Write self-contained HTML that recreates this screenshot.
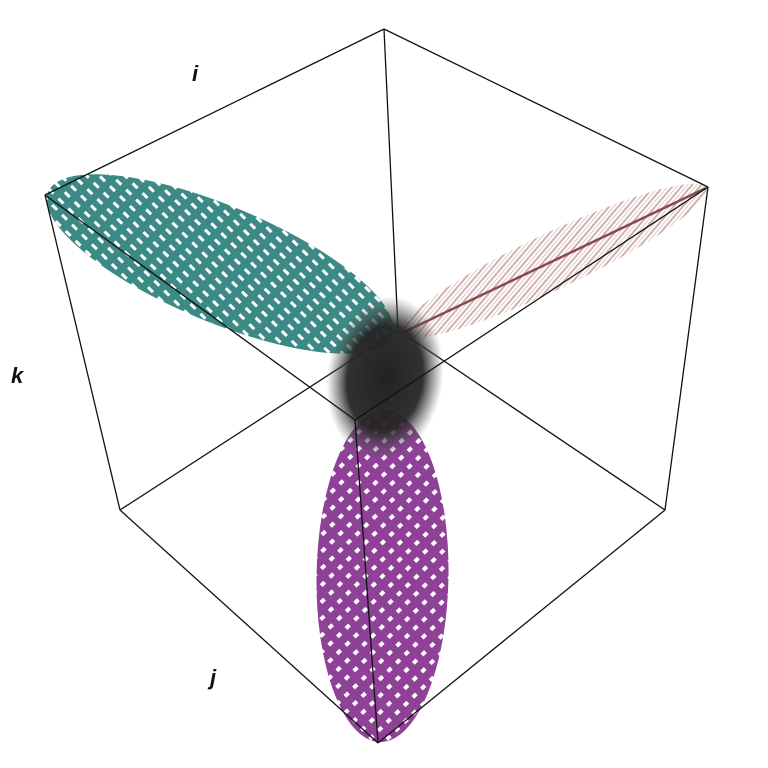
<!DOCTYPE html>
<html><head><meta charset="utf-8"><style>
body{margin:0;background:#fff;}
svg{display:block;}
text{font-family:"Liberation Sans",sans-serif;font-weight:bold;font-style:italic;font-size:22px;fill:#111;}
</style></head><body>
<svg id="chart" width="768" height="768" viewBox="0 0 768 768">
<defs>
<pattern id="pTeal" width="14" height="9" patternUnits="userSpaceOnUse" patternTransform="rotate(22)">
<rect width="14" height="9" fill="#3b8a86"/><rect x="2" y="3" width="7" height="3" fill="#fff"/></pattern>
<pattern id="pPurple" width="12" height="12" patternUnits="userSpaceOnUse" patternTransform="rotate(45)">
<rect width="12" height="12" fill="#8e4196"/><rect x="3" y="3" width="5" height="4" fill="#fff"/></pattern>
<pattern id="pBrown" width="10" height="7" patternUnits="userSpaceOnUse" patternTransform="rotate(-24)">
<rect width="10" height="7" fill="#fff"/><rect y="0" width="10" height="2" fill="#d2b0b0"/><rect y="4" width="10" height="1" fill="#e0c8c8"/></pattern>
<radialGradient id="gBlob"><stop offset="0" stop-color="#222" stop-opacity="1"/><stop offset="0.65" stop-color="#262626" stop-opacity="0.95"/><stop offset="1" stop-color="#555" stop-opacity="0"/></radialGradient>
</defs>
<g id="edges"></g>
<g id="arms"></g>
<g id="edgesFront"></g>
<text x="192" y="81">i</text>
<text x="11" y="383">k</text>
<text x="210" y="685">j</text>
</svg>
<script>
const vertexNames=["T","L","R","F","B","BL","BR","Bot"];
const vertexX=[384,45,708,355,398,120,665,378];
const vertexY=[29,195,187,420,330,510,510,743];
const backEdges=[["T","B"],["B","BL"],["B","BR"]];
const frontEdges=[["T","L"],["T","R"],["L","F"],["R","F"],["F","Bot"],["L","BL"],["R","BR"],["BL","Bot"],["BR","Bot"]];
const armNames=["teal-cluster","brown-cluster","purple-cluster"];
const armX1=[48,706,380];const armY1=[192,188,742];
const armX2=[392,400,385];const armY2=[336,334,410];
const armWidth=[58,28,66];
const armFill=["url(#pTeal)","url(#pBrown)","url(#pPurple)"];
const NS="http://www.w3.org/2000/svg";
function P(n){const i=vertexNames.indexOf(n);return [vertexX[i],vertexY[i]];}
function drawEdges(list,g){list.forEach(e=>{const a=P(e[0]),b=P(e[1]);const l=document.createElementNS(NS,"line");
l.setAttribute("x1",a[0]);l.setAttribute("y1",a[1]);l.setAttribute("x2",b[0]);l.setAttribute("y2",b[1]);
l.setAttribute("stroke","#111");l.setAttribute("stroke-width","1.3");


g.appendChild(l);});}
drawEdges(backEdges,document.getElementById("edges"));
const ag=document.getElementById("arms");
armNames.forEach((n,i)=>{const x1=armX1[i],y1=armY1[i],x2=armX2[i],y2=armY2[i];
const cx=(x1+x2)/2,cy=(y1+y2)/2,len=Math.hypot(x2-x1,y2-y1)/2,ang=Math.atan2(y2-y1,x2-x1)*180/Math.PI;
const e=document.createElementNS(NS,"ellipse");
e.setAttribute("cx",cx);e.setAttribute("cy",cy);e.setAttribute("rx",len);e.setAttribute("ry",armWidth[i]);
e.setAttribute("transform",`rotate(${ang} ${cx} ${cy})`);e.setAttribute("fill",armFill[i]);


ag.appendChild(e);
if(i==1){const l=document.createElementNS(NS,"line");l.setAttribute("x1",x1);l.setAttribute("y1",y1);l.setAttribute("x2",x2);l.setAttribute("y2",y2);l.setAttribute("stroke","#8a4a4a");l.setAttribute("stroke-width","2.5");


ag.appendChild(l);}
});
const blob=document.createElementNS(NS,"ellipse");
blob.setAttribute("cx",385);blob.setAttribute("cy",378);blob.setAttribute("rx",58);blob.setAttribute("ry",82);
blob.setAttribute("transform","rotate(8 385 378)");blob.setAttribute("fill","url(#gBlob)");


ag.appendChild(blob);
drawEdges(frontEdges,document.getElementById("edgesFront"));
</script>
</body></html>
